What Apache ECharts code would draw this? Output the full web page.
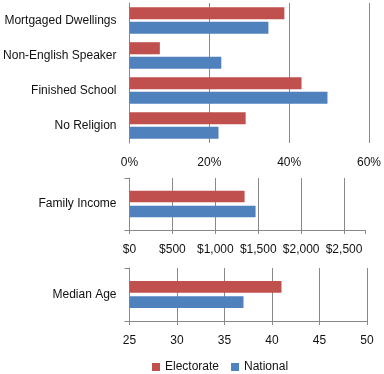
<!DOCTYPE html>
<html>
<head>
<meta charset="utf-8">
<script src="https://cdn.jsdelivr.net/npm/echarts@6/dist/echarts.min.js"></script>
<style>html,body{margin:0;padding:0;background:#fff}#c{width:384px;height:374px}</style>
</head>
<body>
<div id="c"></div>
<script>
// Panel 1: percentages
var pctCategories = ['Mortgaged Dwellings', 'Non-English Speaker', 'Finished School', 'No Religion'];
var pctElectorate = [38.8, 7.6, 43.1, 29.1];
var pctNational = [34.8, 23.0, 49.6, 22.3];
var pctTicks = [0, 20, 40, 60];
// Panel 2: family income
var incomeCategories = ['Family Income'];
var incomeElectorate = [1341];
var incomeNational = [1469];
var incomeTicks = [0, 500, 1000, 1500, 2000, 2500];
// Panel 3: median age
var ageCategories = ['Median Age'];
var ageElectorate = [41];
var ageNational = [37];
var ageTicks = [25, 30, 35, 40, 45, 50];

var seriesNames = ['Electorate', 'National'];
var RED = '#C0504D', BLUE = '#4F81BD', GRID = '#888888', TXT = '#111111';
var FONT = 'Liberation Sans';

var chart = echarts.init(document.getElementById('c'), null, {renderer: 'canvas'});

function xAx(idx, min, max, interval, fmt, showLine, gridColors) {
  return {
    type: 'value', gridIndex: idx, min: min, max: max, interval: interval,
    axisLine: {show: showLine, lineStyle: {color: GRID}},
    axisTick: {show: showLine, length: 4, lineStyle: {color: GRID}},
    splitLine: {show: true, lineStyle: {color: gridColors || GRID, width: 1}},
    axisLabel: {color: TXT, fontFamily: FONT, fontSize: 12, margin: 14, formatter: fmt}
  };
}
function yAx(idx, cats, ticks) {
  return {
    type: 'category', gridIndex: idx, data: cats, inverse: true,
    axisLine: {show: true, lineStyle: {color: GRID}},
    axisTick: {show: ticks, length: 5, lineStyle: {color: GRID}},
    axisLabel: {color: TXT, fontFamily: FONT, fontSize: 12, margin: 13, padding: [3, 0, 0, 0]}
  };
}
function bars(idx, e, n, catGap, gap) {
  return [
    {name: seriesNames[0], type: 'bar', xAxisIndex: idx, yAxisIndex: idx, data: e,
     itemStyle: {color: RED}, barCategoryGap: catGap, barGap: gap},
    {name: seriesNames[1], type: 'bar', xAxisIndex: idx, yAxisIndex: idx, data: n,
     itemStyle: {color: BLUE}, barCategoryGap: catGap, barGap: gap}
  ];
}

var incomeGridColors = incomeTicks.map(function(){return GRID;}).concat(['rgba(0,0,0,0)']);

chart.setOption({
  animation: false,
  textStyle: {fontFamily: FONT},
  grid: [
    {left: 129.5, top: 3, width: 240, height: 140},
    {left: 129.5, top: 178, width: 236, height: 52},
    {left: 129.5, top: 268, width: 237.5, height: 53}
  ],
  xAxis: [
    xAx(0, pctTicks[0], pctTicks[pctTicks.length - 1], 20, '{value}%', false),
    xAx(1, incomeTicks[0], 2750, 500, function (v) {
      return incomeTicks.indexOf(v) >= 0 ? '$' + v.toLocaleString('en-US') : '';
    }, true, incomeGridColors),
    xAx(2, ageTicks[0], ageTicks[ageTicks.length - 1], 5, '{value}', true)
  ],
  yAxis: [
    yAx(0, pctCategories, false),
    yAx(1, incomeCategories, true),
    yAx(2, ageCategories, true)
  ],
  legend: {
    data: seriesNames, left: 152, top: 361, padding: 0, itemWidth: 8, itemHeight: 8, itemGap: 12,
    icon: 'rect', textStyle: {color: TXT, fontFamily: FONT, fontSize: 12}
  },
  series: [].concat(
    bars(0, pctElectorate, pctNational, '24%', '20%'),
    bars(1, incomeElectorate, incomeNational, '49%', '28%'),
    bars(2, ageElectorate, ageNational, '49%', '28%')
  )
});
</script>
</body>
</html>
